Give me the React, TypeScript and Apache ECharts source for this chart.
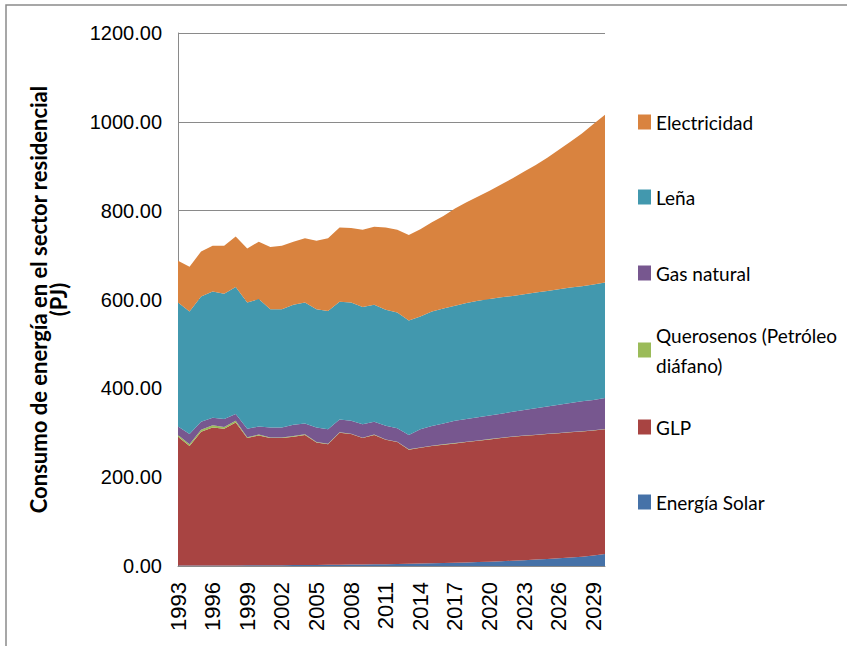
import React, { useEffect, useRef } from "react";
import * as echarts from "echarts";

const years = [
  "1993", "1994", "1995", "1996", "1997", "1998", "1999", "2000", "2001", "2002",
  "2003", "2004", "2005", "2006", "2007", "2008", "2009", "2010", "2011", "2012",
  "2013", "2014", "2015", "2016", "2017", "2018", "2019", "2020", "2021", "2022",
  "2023", "2024", "2025", "2026", "2027", "2028", "2029", "2030",
];

const energiaSolar = [
  1.0, 1.0, 1.1, 1.2, 1.3, 1.4, 1.5, 1.6, 1.7, 1.8, 2.0, 2.2, 2.4, 2.6, 2.9, 3.2, 3.5, 3.8, 4.1,
  4.5, 5.0, 5.5, 6.1, 6.7, 7.4, 8.1, 8.9, 9.8, 10.8, 11.9, 13.1, 14.4, 15.8, 17.3, 19.0, 21.0,
  23.5, 27.0,
];
const glp = [
  290.0, 269.0, 300.9, 310.8, 307.7, 321.6, 286.5, 292.4, 286.3, 286.2, 289.0, 292.8, 275.6,
  271.4, 297.1, 293.8, 284.5, 291.2, 279.9, 274.5, 257.0, 260.5, 263.9, 266.3, 268.6, 270.9,
  273.1, 275.2, 277.2, 279.1, 279.9, 280.6, 281.2, 281.7, 282.0, 282.0, 281.5, 281.0,
];
const querosenos = [
  4, 4, 5, 5, 4, 4, 2, 2, 1.5, 1.5, 1.5, 1.5, 1, 1, 1, 1, 1, 1, 1, 1, 1, 0.9, 0.9, 0.9, 0.8,
  0.8, 0.8, 0.8, 0.7, 0.7, 0.7, 0.7, 0.6, 0.6, 0.6, 0.6, 0.5, 0.5,
];
const gasNatural = [
  19, 23, 18, 17, 18, 15, 19, 18, 22.5, 22.5, 25.5, 24.5, 33, 33, 29, 29, 30, 29, 31, 30, 32,
  41.1, 44.1, 47.1, 50.2, 51.2, 52.2, 53.2, 54.3, 55.3, 57.3, 59.3, 61.4, 63.4, 65.4, 67.4,
  68.5, 69.5,
];
const lena = [
  279, 276, 282, 284, 282, 286, 284, 287, 266, 266, 270, 272, 266, 266, 265, 266, 264, 263,
  261, 261, 258, 254, 258, 259, 259, 261, 262, 262, 262, 261, 261, 261, 260, 260, 260, 259,
  260, 260,
];
const electricidad = [
  94, 101, 101, 103, 108, 114, 122, 129, 140, 143, 142, 145, 154, 164, 167, 168, 174, 176,
  185, 186, 192, 196, 201, 208, 219, 227, 235, 244, 254, 265, 276, 287, 300, 314, 328, 344,
  361, 378,
];

const yTicks = { min: 0, max: 1200, interval: 200 };

const seriesDefs = [
  { name: "Energía Solar", data: energiaSolar, color: "#4672A8" },
  { name: "GLP", data: glp, color: "#A84442" },
  { name: "Querosenos (Petróleo diáfano)", data: querosenos, color: "#9BBB59" },
  { name: "Gas natural", data: gasNatural, color: "#77578F" },
  { name: "Leña", data: lena, color: "#4298AE" },
  { name: "Electricidad", data: electricidad, color: "#D9833F" },
];

const legendTops: Record<string, number> = {
  Electricidad: 122,
  "Leña": 197,
  "Gas natural": 273,
  "Querosenos (Petróleo diáfano)": 350,
  GLP: 427,
  "Energía Solar": 502,
};

export default function App() {
  const ref = useRef<HTMLDivElement>(null);
  useEffect(() => {
    if (!ref.current) return;
    const chart = echarts.init(ref.current, undefined, { renderer: "svg" });
    const legendFont = "Lato";
    const legends = seriesDefs
      .slice()
      .reverse()
      .map((s) => {
        const isQ = s.name.startsWith("Querosenos");
        return {
          data: [s.name],
          orient: "vertical" as const,
          left: 638,
          top: isQ ? legendTops[s.name] - 45 : legendTops[s.name] - 11,
          padding: 0,
          icon: "rect",
          itemWidth: 13,
          itemHeight: 15,
          selectedMode: false,
          formatter: isQ ? "Querosenos (Petróleo\ndiáfano)" : "{name}",
          textStyle: isQ
            ? {
                fontFamily: legendFont,
                fontSize: 19,
                color: "#000",
                lineHeight: 30,
                padding: [30, 0, 0, 0],
              }
            : { fontFamily: legendFont, fontSize: 19, color: "#000", lineHeight: 22 },
        };
      });

    chart.setOption({
      animation: false,
      backgroundColor: "#fff",
      graphic: [
        {
          type: "rect",
          shape: { x: 6, y: 5, width: 900, height: 700 },
          style: { fill: "none", stroke: "#8a8a8a", lineWidth: 1.5 },
          silent: true,
        },
      ],
      legend: legends,
      grid: { left: 178, top: 33, right: 242, bottom: 80, containLabel: false },
      xAxis: {
        type: "category",
        data: years,
        boundaryGap: false,
        axisLine: { lineStyle: { color: "#8a8a8a", width: 1 } },
        axisTick: { show: false },
        axisLabel: {
          interval: 2,
          rotate: 90,
          fontFamily: "Liberation Sans",
          fontSize: 22,
          color: "#000",
          margin: 16,
        },
        splitLine: { show: false },
      },
      yAxis: {
        type: "value",
        min: yTicks.min,
        max: yTicks.max,
        interval: yTicks.interval,
        name: "Consumo de energía en el sector residencial\n(PJ)",
        nameLocation: "middle",
        nameGap: 110,
        nameTextStyle: {
          fontFamily: legendFont,
          fontWeight: "bold",
          fontSize: 22,
          color: "#000",
          lineHeight: 20,
        },
        axisLine: { show: true, lineStyle: { color: "#8a8a8a", width: 1 } },
        axisTick: { show: false },
        axisLabel: {
          formatter: (v: number) => v.toFixed(2),
          fontFamily: "Liberation Sans",
          fontSize: 20,
          color: "#000",
          margin: 16,
        },
        splitLine: { show: true, lineStyle: { color: "#8a8a8a", width: 1 } },
      },
      series: seriesDefs.map((s) => ({
        name: s.name,
        type: "line",
        stack: "total",
        data: s.data,
        symbol: "none",
        showSymbol: false,
        lineStyle: { width: 0 },
        itemStyle: { color: s.color },
        areaStyle: { color: s.color, opacity: 1 },
        z: 2,
      })),
    });
    return () => chart.dispose();
  }, []);
  return (
    <div
      ref={ref}
      style={{ position: "fixed", left: 0, top: 0, width: 847, height: 646 }}
    />
  );
}
